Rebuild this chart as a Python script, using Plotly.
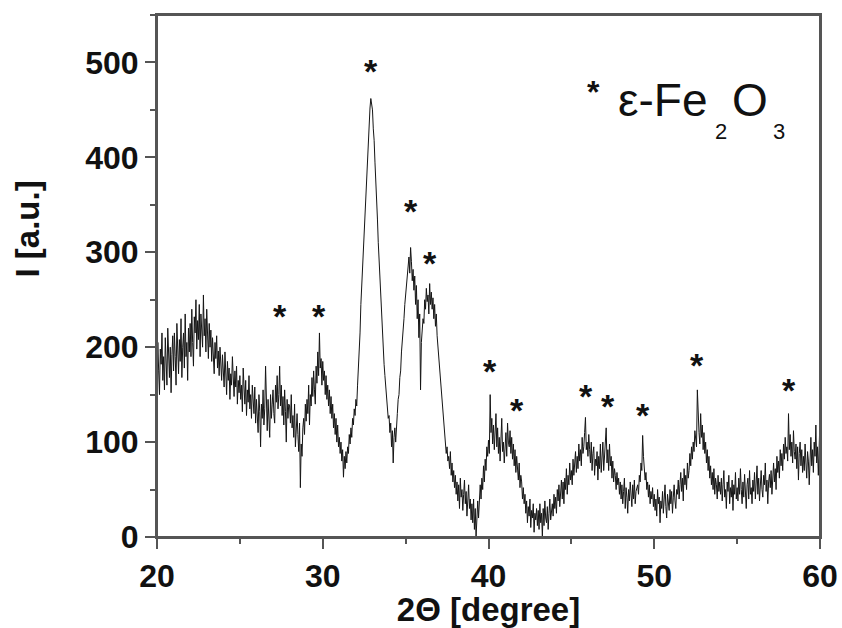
import plotly.graph_objects as go

# Intensity values, 2-theta step 0.05 degree starting at 20.00
# (two rows of ten values per degree)
intensity = [
    160, 205, 175, 150, 198, 182, 215, 165, 190, 155,   # 20.0
    210, 178, 160, 220, 185, 168, 200, 152, 192, 212,   # 20.5
    175, 215, 190, 160, 225, 198, 172, 208, 185, 230,   # 21.0
    168, 200, 215, 178, 235, 190, 205, 165, 220, 195,   # 21.5
    225, 190, 240, 205, 180, 232, 215, 250, 198, 228,   # 22.0
    208, 245, 190, 235, 218, 200, 255, 212, 230, 195,   # 22.5
    240, 210, 188, 225, 200, 218, 185, 210, 195, 172,   # 23.0
    205, 188, 212, 178, 196, 170, 200, 182, 165, 192,   # 23.5
    180, 158, 195, 170, 150, 185, 165, 178, 145, 172,   # 24.0
    160, 190, 168, 148, 175, 158, 180, 140, 165, 152,   # 24.5
    170, 145, 160, 132, 178, 150, 140, 165, 128, 155,   # 25.0
    142, 170, 135, 150, 125, 160, 140, 130, 158, 120,   # 25.5
    145, 128, 110, 150, 132, 95, 140, 125, 155, 118,    # 26.0
    135, 180, 128, 112, 145, 130, 105, 150, 125, 140,   # 26.5
    155, 130, 120, 160, 142, 170, 135, 150, 180, 138,   # 27.0
    160, 128, 148, 118, 155, 132, 100, 145, 125, 140,   # 27.5
    138, 120, 150, 115, 128, 105, 140, 95, 118, 130,    # 28.0
    108, 90, 120, 52, 98, 85, 115, 125, 108, 140,       # 28.5
    122, 145, 130, 160, 118, 150, 138, 168, 148, 175,   # 29.0
    155, 140, 180, 162, 195, 170, 215, 178, 188, 160,   # 29.5
    185, 165, 175, 150, 170, 145, 160, 138, 155, 130,   # 30.0
    148, 125, 140, 115, 130, 108, 125, 100, 118, 95,    # 30.5
    105, 88, 100, 80, 92, 63, 85, 72, 90, 78,           # 31.0
    95, 88, 108, 98, 115, 105, 125, 118, 135, 128,      # 31.5
    145, 138, 160, 175, 200, 215, 245, 265, 290, 305,   # 32.0
    330, 345, 370, 385, 405, 420, 440, 452, 462, 455,   # 32.5
    450, 430, 418, 395, 378, 352, 335, 310, 290, 268,   # 33.0
    252, 235, 215, 198, 182, 170, 158, 145, 135, 125,   # 33.5
    128, 110, 120, 95, 112, 78, 105, 115, 100, 125,     # 34.0
    130, 145, 150, 168, 175, 195, 205, 218, 230, 245,   # 34.5
    255, 262, 275, 285, 295, 278, 305, 290, 270, 282,   # 35.0
    260, 275, 245, 265, 230, 250, 210, 235, 155, 205,   # 35.5
    215, 230, 225, 250, 240, 262, 248, 255, 235, 267,   # 36.0
    245, 258, 240, 252, 230, 245, 222, 235, 212, 200,   # 36.5
    190, 175, 165, 150, 140, 125, 118, 105, 100, 88,    # 37.0
    95, 80, 85, 72, 90, 65, 78, 58, 70, 52,             # 37.5
    65, 45, 58, 38, 55, 30, 62, 42, 50, 28,             # 38.0
    45, 60, 35, 48, 22, 42, 55, 30, 40, 18,             # 38.5
    35, 15, 40, 8, 30, 0, 25, 38, 20, 45,               # 39.0
    55, 40, 62, 50, 75, 58, 82, 70, 95, 85,             # 39.5
    102, 88, 150, 110, 125, 98, 118, 92, 108, 130,      # 40.0
    95, 115, 88, 105, 80, 112, 125, 90, 100, 78,        # 40.5
    92, 110, 85, 120, 100, 95, 112, 88, 105, 82,        # 41.0
    98, 75, 92, 68, 85, 72, 60, 78, 52, 65,             # 41.5
    58, 40, 52, 35, 45, 25, 38, 15, 32, 22,             # 42.0
    40, 10, 28, 20, 35, 5, 25, 18, 30, 12,              # 42.5
    28, 8, 35, 15, 25, 0, 30, 12, 38, 20,               # 43.0
    15, 32, 8, 25, 40, 18, 28, 35, 22, 45,              # 43.5
    30, 42, 25, 50, 38, 55, 32, 48, 60, 40,             # 44.0
    58, 35, 62, 50, 72, 45, 65, 55, 78, 60,             # 44.5
    70, 55, 82, 65, 75, 90, 68, 85, 72, 98,             # 45.0
    80, 92, 75, 105, 88, 95, 110, 126, 92, 100,         # 45.5
    85, 108, 92, 78, 100, 70, 88, 95, 65, 82,           # 46.0
    75, 90, 60, 85, 72, 98, 68, 80, 100, 70,            # 46.5
    82, 95, 115, 78, 92, 70, 98, 75, 85, 62,            # 47.0
    80, 58, 72, 65, 50, 68, 55, 62, 45, 58,             # 47.5
    40, 55, 35, 48, 62, 30, 52, 42, 25, 50,             # 48.0
    38, 58, 45, 32, 55, 40, 60, 35, 48, 52,             # 48.5
    55, 45, 65, 58, 78, 70, 107, 85, 72, 60,            # 49.0
    68, 50, 58, 42, 55, 35, 48, 40, 52, 32,             # 49.5
    45, 28, 40, 22, 50, 35, 42, 15, 38, 30,             # 50.0
    48, 25, 40, 55, 32, 20, 45, 38, 28, 50,             # 50.5
    35, 48, 25, 42, 55, 38, 30, 50, 45, 60,             # 51.0
    40, 55, 68, 48, 62, 38, 72, 55, 65, 50,             # 51.5
    78, 62, 70, 88, 75, 95, 82, 100, 90, 112,           # 52.0
    105, 95, 155, 120, 110, 98, 130, 105, 118, 92,      # 52.5
    110, 88, 100, 78, 92, 70, 85, 62, 75, 55,           # 53.0
    68, 50, 72, 45, 62, 55, 40, 65, 48, 58,             # 53.5
    45, 62, 38, 55, 70, 42, 50, 30, 58, 48,             # 54.0
    65, 35, 52, 42, 60, 28, 55, 45, 68, 40,             # 54.5
    52, 38, 62, 45, 72, 50, 35, 58, 42, 66,             # 55.0
    48, 30, 55, 62, 40, 70, 45, 52, 35, 60,             # 55.5
    48, 68, 40, 58, 75, 45, 62, 38, 55, 70,             # 56.0
    50, 42, 65, 55, 78, 48, 60, 35, 58, 66,             # 56.5
    52, 70, 45, 62, 78, 58, 72, 50, 85, 68,             # 57.0
    80, 62, 92, 75, 88, 70, 98, 82, 105, 88,            # 57.5
    95, 80, 130, 92, 108, 85, 100, 78, 112, 90,         # 58.0
    82, 98, 72, 95, 60, 88, 100, 75, 92, 68,            # 58.5
    85, 70, 98, 78, 62, 90, 80, 55, 88, 105,            # 59.0
    75, 92, 68, 100, 85, 118, 78, 95, 65, 110,          # 59.5
    125,                                                # 60.0
]

two_theta = [round(20 + i * 0.05, 2) for i in range(len(intensity))]

# Peak markers (*) positions
star_x = [27.4, 29.8, 32.9, 35.3, 36.5, 40.1, 41.7, 45.9, 47.2, 49.3, 52.6, 58.1]
star_y = [236, 236, 494, 347, 292, 178, 137, 152, 141, 132, 184, 158]

x_ticks = [20, 30, 40, 50, 60]
y_ticks = [0, 100, 200, 300, 400, 500]

FONT = "Liberation Sans"
INK = "#111111"
FRAME = "#555555"

fig = go.Figure()
fig.add_trace(go.Scatter(
    x=two_theta, y=intensity, mode="lines",
    line=dict(color="#151515", width=1),
    showlegend=False, hoverinfo="skip",
))

for sx, sy in zip(star_x, star_y):
    fig.add_annotation(x=sx, y=sy, text="*", showarrow=False, yshift=-3,
                       font=dict(family=FONT, size=34, color=INK, weight="bold"),
                       xanchor="center", yanchor="middle")

# legend-like label: * ε-Fe2O3
fig.add_annotation(xref="paper", yref="paper", x=0.659, y=0.853, text="*",
                   showarrow=False, xanchor="center", yanchor="middle",
                   font=dict(family=FONT, size=32, color=INK, weight="bold"))
big = dict(family=FONT, size=46, color=INK)
small = dict(family=FONT, size=22, color=INK)
fig.add_annotation(xref="paper", yref="paper", x=0.693, y=0.8375, text="ε-Fe",
                   showarrow=False, xanchor="left", yanchor="middle", font=big)
fig.add_annotation(xref="paper", yref="paper", x=0.8386, y=0.777, text="2",
                   showarrow=False, xanchor="left", yanchor="middle", font=small)
fig.add_annotation(xref="paper", yref="paper", x=0.8640, y=0.8375, text="O",
                   showarrow=False, xanchor="left", yanchor="middle", font=big)
fig.add_annotation(xref="paper", yref="paper", x=0.9260, y=0.777, text="3",
                   showarrow=False, xanchor="left", yanchor="middle", font=small)

# y-axis title
fig.add_annotation(xref="paper", yref="paper", x=-0.1946, y=0.591, text="I [a.u.]",
                   textangle=-90, showarrow=False, xanchor="center", yanchor="middle",
                   font=dict(family=FONT, size=33, color=INK, weight="bold"))

# frame
fig.add_shape(type="rect", xref="paper", yref="paper", x0=0, y0=0, x1=1, y1=1,
              line=dict(color=FRAME, width=2), layer="above")

axis_common = dict(
    showline=True, linecolor=FRAME, linewidth=2, mirror=True,
    ticks="outside", ticklen=10, tickwidth=2, tickcolor=FRAME,
    showgrid=False, zeroline=False, automargin=False,
    tickfont=dict(family=FONT, size=32, color=INK, weight="bold"),
)

fig.update_xaxes(
    range=[20, 60], tickvals=x_ticks,
    minor=dict(dtick=5, tick0=20, ticks="outside", ticklen=5, tickwidth=2, tickcolor=FRAME),
    title=dict(text="2Θ [degree]", font=dict(family=FONT, size=33, color=INK, weight="bold")),
    **axis_common,
)
fig.update_yaxes(
    range=[0, 550], tickvals=y_ticks,
    minor=dict(dtick=50, tick0=0, ticks="outside", ticklen=5, tickwidth=2, tickcolor=FRAME),
    **axis_common,
)

fig.update_layout(
    width=842, height=628,
    margin=dict(l=157, r=22, t=15, b=91),
    paper_bgcolor="white", plot_bgcolor="white",
)

fig.write_html("out.html", config={"displayModeBar": False})
